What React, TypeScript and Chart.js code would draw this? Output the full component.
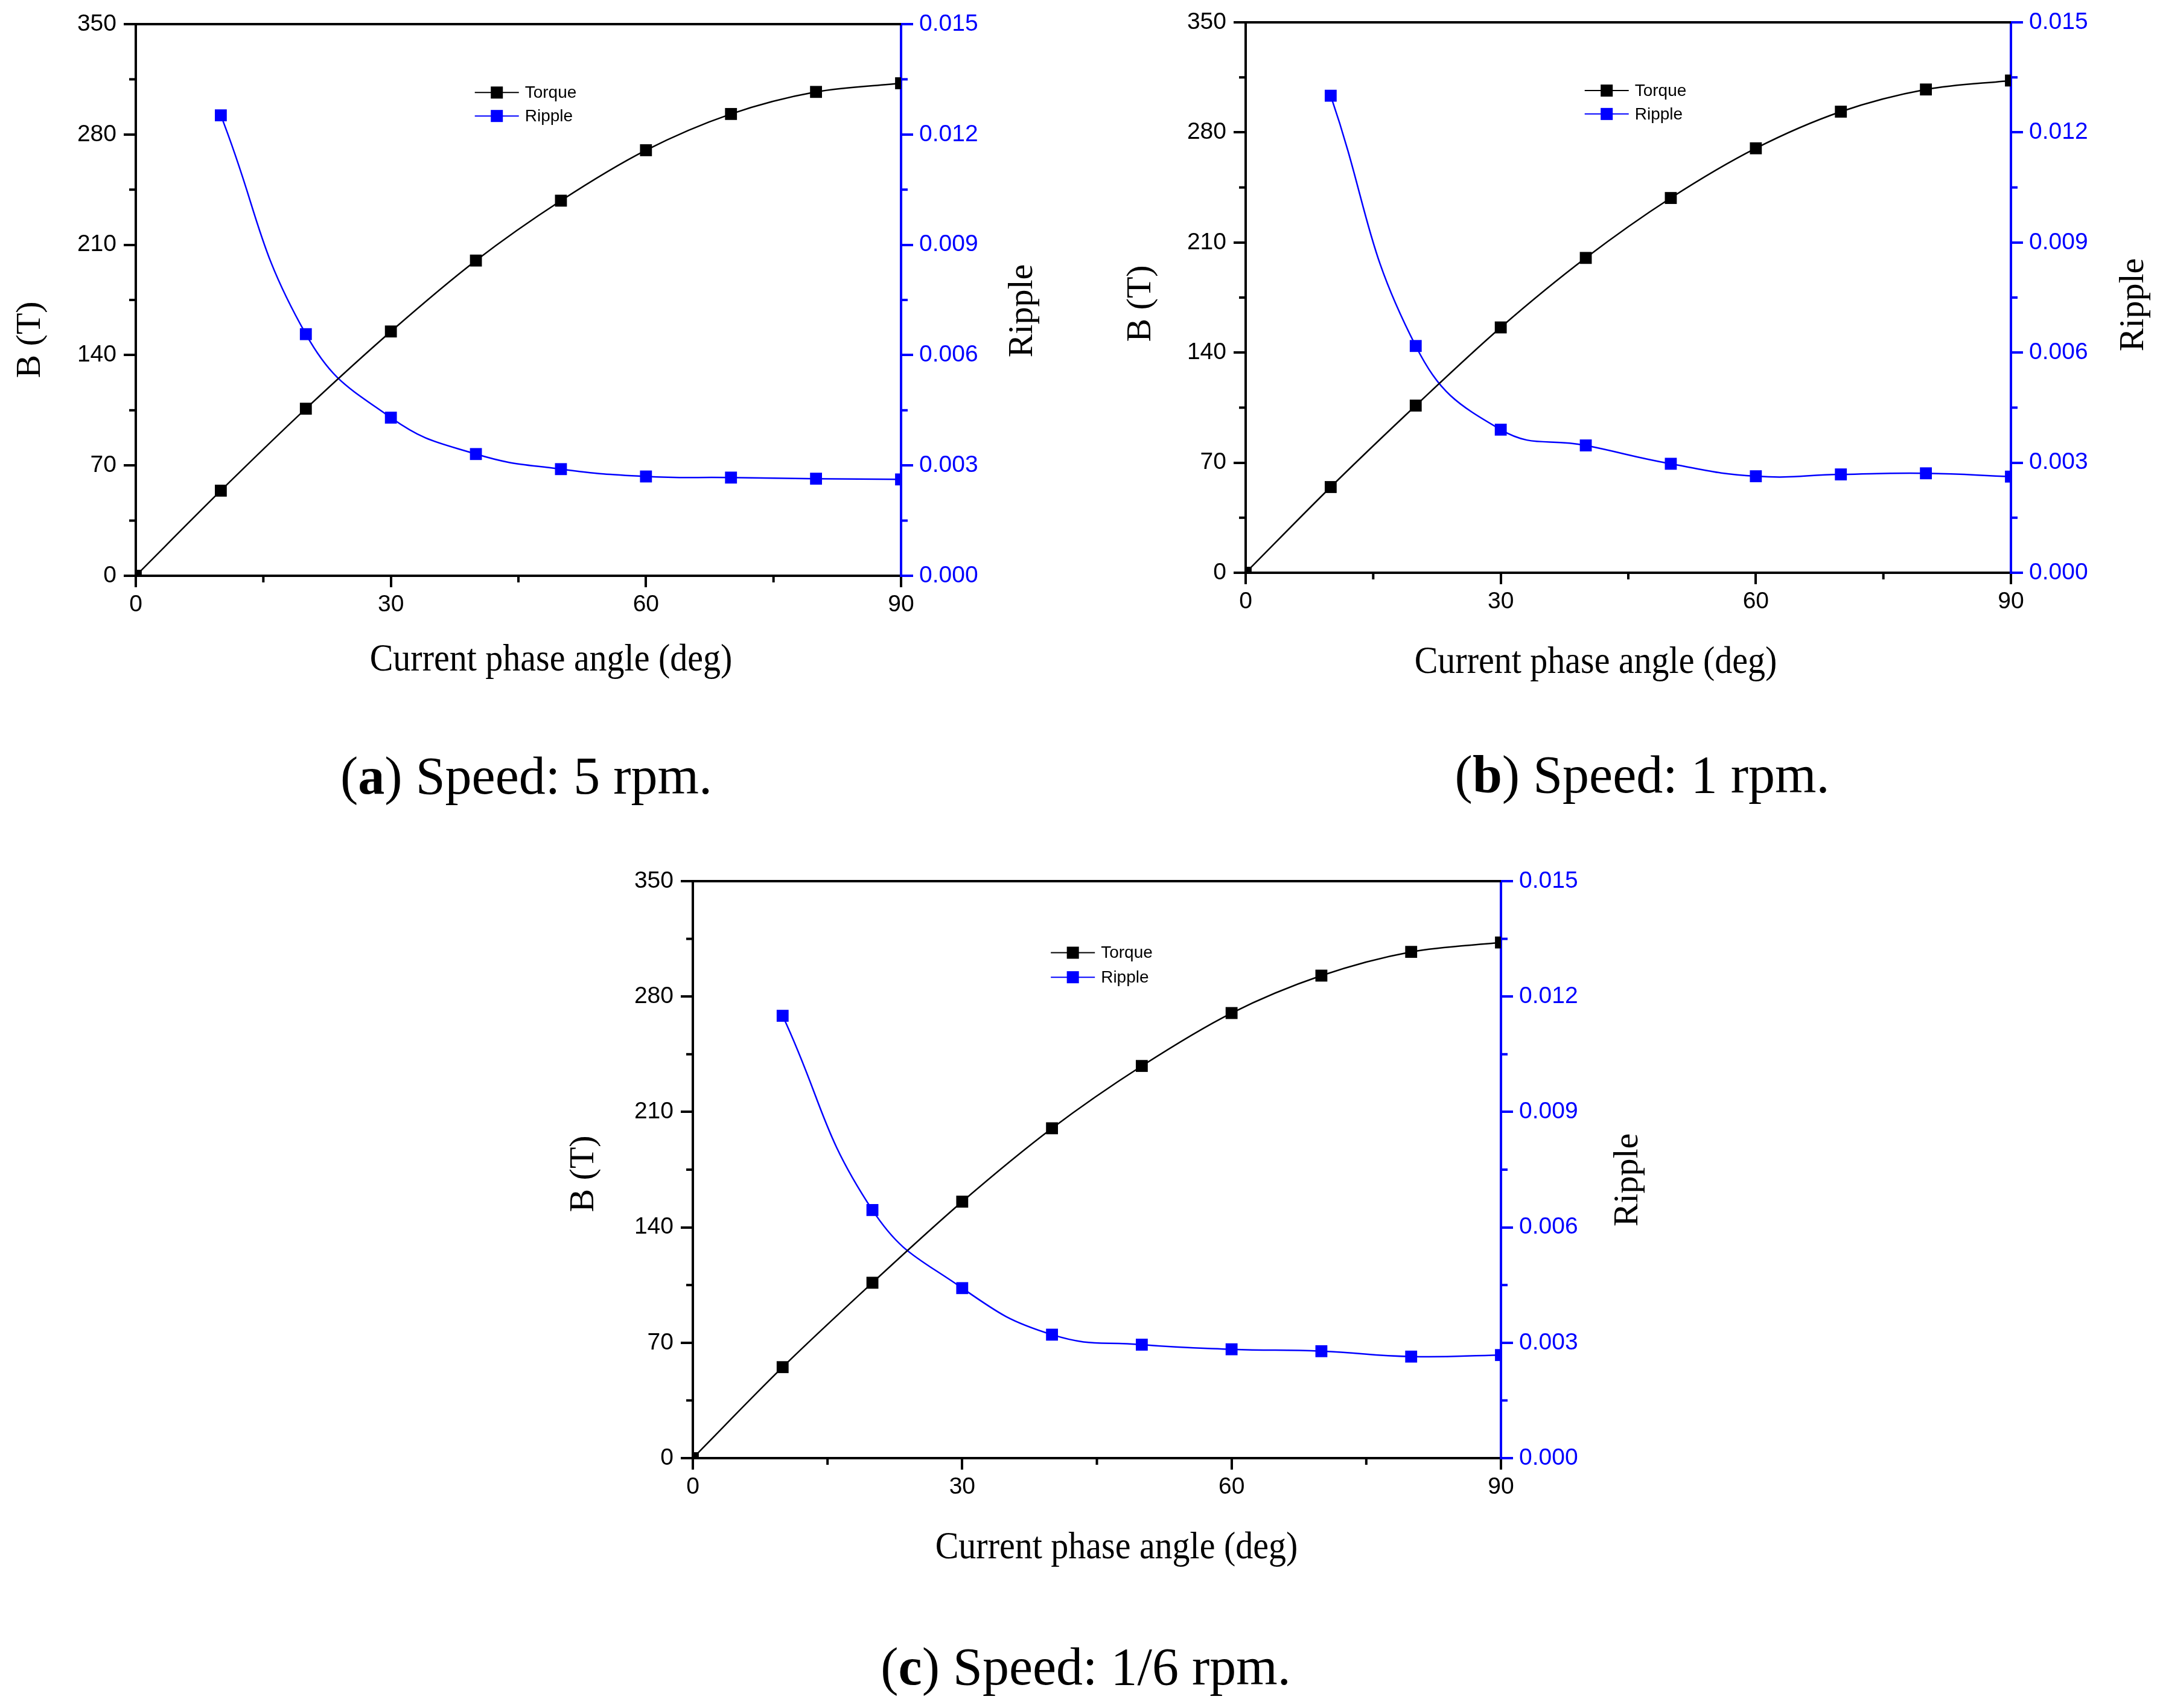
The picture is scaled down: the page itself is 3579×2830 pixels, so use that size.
import React, { useEffect, useRef } from 'react';
import { Chart, registerables } from 'chart.js';

Chart.register(...registerables);

// current phase angle (deg)
const angles = [0, 10, 20, 30, 40, 50, 60, 70, 80, 90];

// (a) 5 rpm
const torqueA = [0, 54, 106, 155, 200, 238, 270, 293, 307, 312.5];
const rippleA = [null, 0.01252, 0.00657, 0.0043, 0.00331, 0.0029, 0.0027, 0.00267, 0.00264, 0.00262];
// (b) 1 rpm
const torqueB = [0, 54.5, 106.3, 156, 200.2, 238.3, 269.9, 293.2, 307.3, 313];
const rippleB = [null, 0.013, 0.00618, 0.0039, 0.00347, 0.00297, 0.00263, 0.00268, 0.00271, 0.00262];
// (c) 1/6 rpm
const torqueC = [0, 55.2, 106.4, 155.6, 200.1, 237.9, 270, 292.7, 307.1, 312.8];
const rippleC = [null, 0.0115, 0.00645, 0.00442, 0.00321, 0.00295, 0.00283, 0.00278, 0.00264, 0.00268];

const xMinor = [15, 45, 75];
const torqueMinor = [35, 105, 175, 245, 315];
const rippleMinor = [0.0015, 0.0045, 0.0075, 0.0105, 0.0135];

const BLUE = '#0000FF';
const SANS = "'Liberation Sans', Arial, sans-serif";
const SERIF = "'Liberation Serif', 'Times New Roman', serif";

type Panel = {
  torque: number[];
  ripple: (number | null)[];
  plot: { l: number; r: number; t: number; b: number };
  yTitle: [number, number];
  rTitle: [number, number];
  xTitle: [number, number];
  caption: [number, number];
  letter: string;
  speed: string;
};

const panels: Panel[] = [
  {
    torque: torqueA,
    ripple: rippleA,
    plot: { l: 225, r: 1493, t: 40, b: 954 },
    yTitle: [51, 563],
    rTitle: [1695, 515],
    xTitle: [913, 1094],
    caption: [872, 1286],
    letter: 'a',
    speed: 'Speed: 5 rpm.',
  },
  {
    torque: torqueB,
    ripple: rippleB,
    plot: { l: 2064, r: 3332, t: 37, b: 949 },
    yTitle: [1891, 503],
    rTitle: [3536, 505],
    xTitle: [2644, 1098],
    caption: [2721, 1284],
    letter: 'b',
    speed: 'Speed: 1 rpm.',
  },
  {
    torque: torqueC,
    ripple: rippleC,
    plot: { l: 1148, r: 2487, t: 1460, b: 2416 },
    yTitle: [968, 1945],
    rTitle: [2698, 1955],
    xTitle: [1850, 2565],
    caption: [1799, 2762],
    letter: 'c',
    speed: 'Speed: 1/6 rpm.',
  },
];

const MARGIN_L = 220;
const MARGIN_R = 240;
const MARGIN_T = 37;
const MARGIN_B = 200;

const PanelChart: React.FC<{ panel: Panel }> = ({ panel }) => {
  const chartRef = useRef<HTMLCanvasElement>(null);
  const { plot } = panel;
  const cLeft = plot.l - MARGIN_L;
  const cTop = plot.t - MARGIN_T;
  const cW = plot.r - plot.l + MARGIN_L + MARGIN_R;
  const cH = plot.b - plot.t + MARGIN_T + MARGIN_B;

  useEffect(() => {
    if (!chartRef.current) return;
    const ctx = chartRef.current.getContext('2d');
    if (!ctx) return;

    const decor = {
      id: 'decor',
      afterDraw(chart: any) {
        const c = chart.ctx;
        const area = chart.chartArea;
        const sx = chart.scales.x;
        const sy = chart.scales.y;
        const sr = chart.scales.y1;
        c.save();
        // top frame
        c.strokeStyle = '#000';
        c.lineWidth = 4;
        c.beginPath();
        c.moveTo(area.left - 2, area.top);
        c.lineTo(area.right, area.top);
        c.stroke();
        // minor ticks
        xMinor.forEach((v) => {
          const px = sx.getPixelForValue(v);
          c.beginPath();
          c.moveTo(px, area.bottom);
          c.lineTo(px, area.bottom + 11);
          c.stroke();
        });
        torqueMinor.forEach((v) => {
          const py = sy.getPixelForValue(v);
          c.beginPath();
          c.moveTo(area.left, py);
          c.lineTo(area.left - 11, py);
          c.stroke();
        });
        c.strokeStyle = BLUE;
        rippleMinor.forEach((v) => {
          const py = sr.getPixelForValue(v);
          c.beginPath();
          c.moveTo(area.right, py);
          c.lineTo(area.right + 11, py);
          c.stroke();
        });

        // legend
        const w = area.right - area.left;
        const h = area.bottom - area.top;
        const lx = area.left + 0.443 * w;
        const rows = [
          { label: 'Torque', color: '#000', y: area.top + 0.124 * h },
          { label: 'Ripple', color: BLUE, y: area.top + 0.1665 * h },
        ];
        c.font = `28px ${SANS}`;
        c.textBaseline = 'middle';
        c.textAlign = 'left';
        rows.forEach((row) => {
          c.strokeStyle = row.color;
          c.fillStyle = row.color;
          c.lineWidth = 2;
          c.beginPath();
          c.moveTo(lx, row.y);
          c.lineTo(lx + 73, row.y);
          c.stroke();
          c.fillRect(lx + 36.5 - 10, row.y - 10, 20, 20);
          c.fillStyle = '#000';
          c.fillText(row.label, lx + 83, row.y + 1);
        });

        // axis titles
        c.fillStyle = '#000';
        c.textAlign = 'center';
        c.textBaseline = 'middle';
        c.font = `58px ${SERIF}`;
        const rot = (pos: [number, number], text: string) => {
          c.save();
          c.translate(pos[0] - cLeft, pos[1] - cTop);
          c.rotate(-Math.PI / 2);
          c.fillText(text, 0, 0);
          c.restore();
        };
        rot(panel.yTitle, 'B (T)');
        rot(panel.rTitle, 'Ripple');
        c.save();
        c.translate(panel.xTitle[0] - cLeft, panel.xTitle[1] - cTop);
        c.scale(1, 1.1);
        c.fillText('Current phase angle (deg)', 0, 0);
        c.restore();
        c.restore();
      },
    };

    const chart = new Chart(ctx, {
      type: 'line',
      data: {
        datasets: [
          {
            label: 'Torque',
            data: angles.map((a, i) => ({ x: a, y: panel.torque[i] })),
            yAxisID: 'y',
            borderColor: '#000',
            backgroundColor: '#000',
            borderWidth: 2.5,
            pointStyle: 'rect',
            pointRadius: 14,
            pointBorderWidth: 0,
            cubicInterpolationMode: 'monotone',
            clip: 0,
          },
          {
            label: 'Ripple',
            data: angles
              .map((a, i) => ({ x: a, y: panel.ripple[i] }))
              .filter((p) => p.y !== null),
            yAxisID: 'y1',
            borderColor: BLUE,
            backgroundColor: BLUE,
            borderWidth: 2.5,
            pointStyle: 'rect',
            pointRadius: 14,
            pointBorderWidth: 0,
            tension: 0.45,
            clip: 0,
          },
        ],
      },
      options: {
        animation: false,
        responsive: false,
        devicePixelRatio: 1,
        events: [],
        layout: {
          padding: {
            left: MARGIN_L - 120,
            right: MARGIN_R - 160,
            top: MARGIN_T,
            bottom: MARGIN_B - 80,
          },
        },
        plugins: {
          legend: { display: false },
          tooltip: { enabled: false },
        },
        scales: {
          x: {
            type: 'linear',
            min: 0,
            max: 90,
            z: 1,
            afterFit: (s: any) => {
              s.height = 80;
            },
            ticks: {
              stepSize: 30,
              color: '#000',
              padding: 6,
              font: { family: SANS, size: 39 },
            },
            grid: {
              drawOnChartArea: false,
              drawTicks: true,
              tickLength: 19,
              lineWidth: 4,
              tickWidth: 4,
              tickColor: '#000',
            },
            border: { display: true, color: '#000', width: 4 },
          },
          y: {
            type: 'linear',
            position: 'left',
            min: 0,
            max: 350,
            z: 1,
            afterFit: (s: any) => {
              s.width = 120;
            },
            ticks: {
              stepSize: 70,
              color: '#000',
              padding: 12,
              font: { family: SANS, size: 39 },
            },
            grid: {
              drawOnChartArea: false,
              drawTicks: true,
              tickLength: 20,
              lineWidth: 4,
              tickWidth: 4,
              tickColor: '#000',
            },
            border: { display: true, color: '#000', width: 4 },
          },
          y1: {
            type: 'linear',
            position: 'right',
            min: 0,
            max: 0.015,
            z: 1,
            afterFit: (s: any) => {
              s.width = 160;
            },
            ticks: {
              stepSize: 0.003,
              color: BLUE,
              padding: 10,
              font: { family: SANS, size: 39 },
              callback: (v: any) => Number(v).toFixed(3),
            },
            grid: {
              drawOnChartArea: false,
              drawTicks: true,
              tickLength: 20,
              lineWidth: 4,
              tickWidth: 4,
              tickColor: BLUE,
            },
            border: { display: true, color: BLUE, width: 4 },
          },
        },
      },
      plugins: [decor],
    } as any);

    return () => {
      chart.destroy();
    };
  }, [panel]);

  return (
    <canvas
      ref={chartRef}
      width={cW}
      height={cH}
      style={{ position: 'absolute', left: cLeft, top: cTop, width: cW, height: cH }}
    />
  );
};

const App: React.FC = () => {
  return (
    <div
      style={{
        position: 'absolute',
        left: 0,
        top: 0,
        width: 3579,
        height: 2830,
        background: '#fff',
        overflow: 'hidden',
      }}
    >
      {panels.map((p) => (
        <React.Fragment key={p.letter}>
          <PanelChart panel={p} />
          <div
            style={{
              position: 'absolute',
              left: p.caption[0],
              top: p.caption[1],
              transform: 'translate(-50%, -50%)',
              fontFamily: SERIF,
              fontSize: 88,
              whiteSpace: 'nowrap',
              color: '#000',
              lineHeight: 1,
            }}
          >
            (<b>{p.letter}</b>) {p.speed}
          </div>
        </React.Fragment>
      ))}
    </div>
  );
};

export default App;
